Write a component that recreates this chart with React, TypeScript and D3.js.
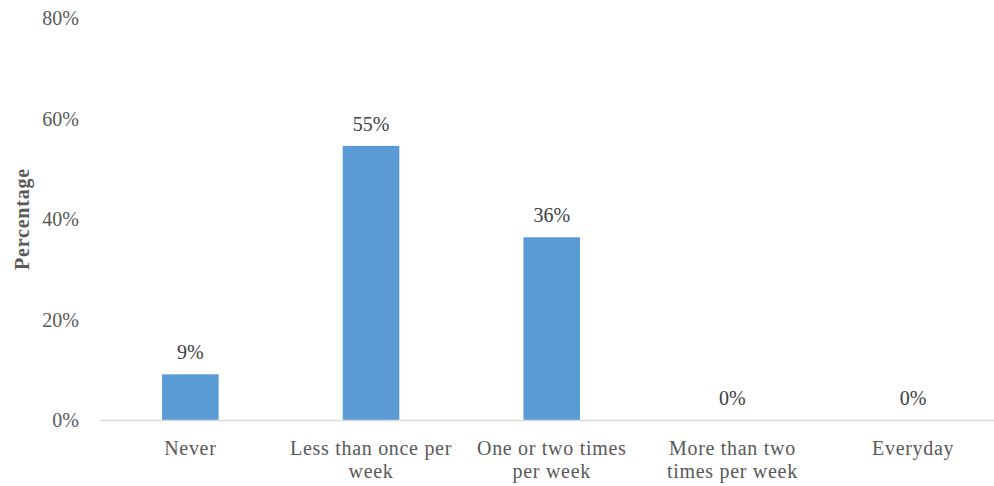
import React, { useEffect } from "react";
import * as d3 from "d3";

// Survey answers: how often respondents do the activity
const categories: string[][] = [
  ["Never"],
  ["Less than once per", "week"],
  ["One or two times", "per week"],
  ["More than two", "times per week"],
  ["Everyday"],
];
const categoryKeys = ["never", "lessOnce", "oneTwo", "moreTwo", "everyday"];
const percentages = [9.09, 54.55, 36.36, 0, 0];
const yTicks = [0, 20, 40, 60, 80];

const W = 994;
const H = 486;
const margin = { left: 100, top: 18, bottom: 420 };
const FONT = '"Liberation Serif", "Times New Roman", Times, serif';

export default function App() {
  useEffect(() => {
    document.body.style.margin = "0";
  }, []);

  const x = d3
    .scaleBand<string>()
    .domain(categoryKeys)
    .range([margin.left, margin.left + 180.7 * 5])
    .paddingInner(0.687)
    .paddingOuter(0.3435);
  const y = d3.scaleLinear().domain([0, 80]).range([margin.bottom, margin.top]);
  const pct = d3.format(".0%");

  return (
    <svg
      width={W}
      height={H}
      style={{ display: "block", background: "#fff", fontFamily: FONT }}
    >
      {yTicks.map((t) => (
        <text
          key={t}
          x={79}
          y={y(t)}
          dy="0.35em"
          textAnchor="end"
          fontSize={20}
          fill="#595959"
          style={{ fontFamily: FONT }}
        >
          {pct(t / 100)}
        </text>
      ))}
      <text
        transform={`translate(29,${(y(0) + y(80)) / 2}) rotate(-90)`}
        textAnchor="middle"
        fontSize={20}
        fontWeight="bold"
        fill="#595959"
        letterSpacing={0.8}
        style={{ fontFamily: FONT }}
      >
        Percentage
      </text>
      {percentages.map((v, i) => {
        const k = categoryKeys[i];
        const bx = x(k)!;
        return (
          <g key={k}>
            {v > 0 && (
              <rect
                x={bx}
                y={y(v)}
                width={x.bandwidth()}
                height={y(0) - y(v)}
                fill="#5B9BD5"
              />
            )}
            <text
              x={bx + x.bandwidth() / 2}
              y={y(v) - 15}
              textAnchor="middle"
              fontSize={20}
              fill="#404040"
              style={{ fontFamily: FONT }}
            >
              {pct(Math.round(v) / 100)}
            </text>
          </g>
        );
      })}
      <line
        x1={margin.left}
        x2={W}
        y1={y(0) + 0.5}
        y2={y(0) + 0.5}
        stroke="#D9D9D9"
        strokeWidth={1.5}
      />
      {categories.map((lines, i) => {
        const cx = x(categoryKeys[i])! + x.bandwidth() / 2;
        return (
          <text
            key={categoryKeys[i]}
            x={cx}
            y={455}
            textAnchor="middle"
            fontSize={20}
            fill="#595959"
            letterSpacing={0.7}
            style={{ fontFamily: FONT }}
          >
            {lines.map((ln, j) => (
              <tspan key={j} x={cx} dy={j === 0 ? 0 : 23}>
                {ln}
              </tspan>
            ))}
          </text>
        );
      })}
    </svg>
  );
}
